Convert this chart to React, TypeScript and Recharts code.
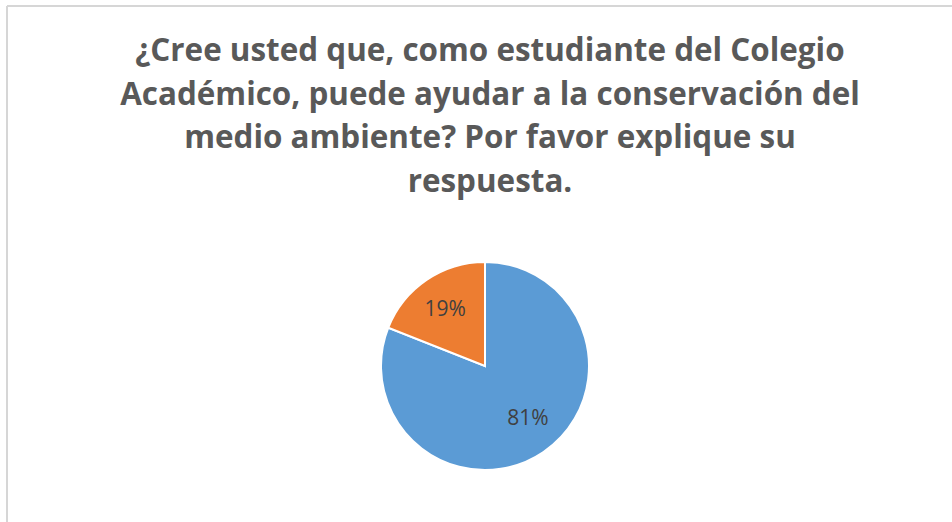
import React from 'react';
import { PieChart, Pie, Cell } from 'recharts';

const answers = ['Sí', 'No'];
const shares = [81, 19];
const sliceColors = ['#5B9BD5', '#ED7D31'];
const titleLines = [
    '¿Cree usted que, como estudiante del Colegio',
    'Académico, puede ayudar a la conservación del',
    'medio ambiente? Por favor explique su',
    'respuesta.',
];

const data = answers.map((name, i) => ({ name, value: shares[i] }));
const total = shares.reduce((a, b) => a + b, 0);
const RAD = Math.PI / 180;

const W = 952;
const H = 522;

function sliceLabel(props: any) {
    const { cx, cy, midAngle, outerRadius, value, index } = props;
    // the big slice's label sits a bit nearer the centre, as in the original
    const r = outerRadius * (index === 0 ? 0.64 : 0.68);
    const tilt = index === 0 ? 6 : 0;
    const a = (midAngle + tilt) * RAD;
    const x = cx + r * Math.cos(-a);
    const y = cy + r * Math.sin(-a);
    return (
        <text x={x} y={y} fill="#404040" fontSize={21} fontFamily="'Open Sans', sans-serif"
            textAnchor="middle" dominantBaseline="central">
            {Math.round((value / total) * 100)}%
        </text>
    );
}

export default function App() {
    return (
        <div style={{ position: 'fixed', left: 0, top: 0, width: W, height: H, overflow: 'hidden', background: '#fff' }}>
            <div style={{ position: 'absolute', left: 0, top: 0 }}>
                <PieChart width={W} height={H} margin={{ top: 0, right: 0, bottom: 0, left: 0 }}>
                    <Pie
                        data={data}
                        dataKey="value"
                        nameKey="name"
                        cx={485}
                        cy={366}
                        outerRadius={104}
                        startAngle={90}
                        endAngle={-270}
                        stroke="#ffffff"
                        strokeWidth={2}
                        label={sliceLabel}
                        labelLine={false}
                        isAnimationActive={false}
                    >
                        {data.map((d, i) => <Cell key={d.name} fill={sliceColors[i]} />)}
                    </Pie>
                </PieChart>
            </div>
            <svg width={W} height={H} style={{ position: 'absolute', left: 0, top: 0, pointerEvents: 'none' }}>
                <line x1={7} y1={6} x2={W} y2={6} stroke="#d6d6d6" strokeWidth={2} />
                <line x1={7} y1={6} x2={7} y2={H} stroke="#d6d6d6" strokeWidth={2} />
                {titleLines.map((line, i) => (
                    <text key={i} x={490} y={61 + i * 43.7} textAnchor="middle"
                        fill="#595959" fontSize={31.4} fontWeight="bold" fontFamily="'Open Sans', sans-serif">
                        {line}
                    </text>
                ))}
            </svg>
        </div>
    );
}
